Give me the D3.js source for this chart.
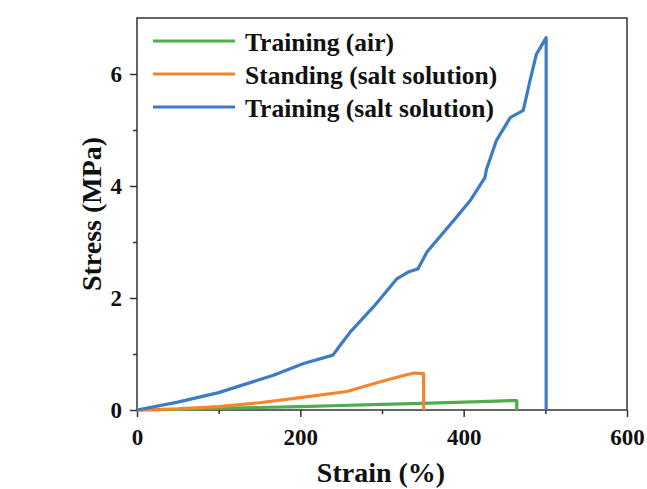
<!DOCTYPE html>
<html>
<head>
<meta charset="utf-8">
<script src="https://cdn.jsdelivr.net/npm/d3@7"></script>
<style>
  body { margin: 0; background: #fff; }
  text { font-family: "Liberation Serif", "Times New Roman", serif; font-weight: bold; fill: #111; }
</style>
</head>
<body>
<svg id="chart" width="647" height="489"></svg>
<script>
// series: [strain %, stress MPa]
const trainingAir = [[0, 0], [50, 0.01], [100, 0.03], [150, 0.045], [200, 0.06], [250, 0.08],
    [300, 0.1], [350, 0.12], [400, 0.14], [440, 0.16], [465, 0.17], [465, 0]];
const standingSalt = [[0, 0], [50, 0.02], [100, 0.06], [150, 0.13], [200, 0.22], [257, 0.33],
    [297, 0.5], [330, 0.63], [340, 0.66], [351, 0.65], [351, 0]];
const trainingSalt = [[0, 0], [50, 0.14], [100, 0.31], [167, 0.62], [204, 0.83], [240, 0.98],
    [249, 1.16], [261, 1.39], [290, 1.85], [318, 2.34], [333, 2.47], [344, 2.52], [355, 2.82],
    [391, 3.44], [408, 3.74], [426, 4.15], [428, 4.3], [440, 4.81], [457, 5.22], [473, 5.35],
    [481, 5.87], [489, 6.35], [501, 6.65], [501, 0]];

const seriesNames = ["Training (air)", "Standing (salt solution)", "Training (salt solution)"];
const seriesColors = ["#4fae4b", "#f5842a", "#3d7cc4"];
const xTicks = [0, 200, 400, 600];
const yTicks = [0, 2, 4, 6];

const svg = d3.select("#chart");
const mLeft = 137, mRight = 627, mTop = 18, mBottom = 410;

const x = d3.scaleLinear().domain([0, 600]).range([mLeft, mRight]);
const y = d3.scaleLinear().domain([0, 7]).range([mBottom, mTop]);

// frame
svg.append("rect")
    .attr("x", mLeft).attr("y", mTop)
    .attr("width", mRight - mLeft).attr("height", mBottom - mTop)
    .attr("fill", "none").attr("stroke", "#333").attr("stroke-width", 1.5);

// minor ticks
svg.append("g")
    .attr("transform", `translate(0,${mBottom})`)
    .call(d3.axisBottom(x).tickValues([100, 300, 500]).tickSize(4).tickFormat(""))
    .call(g => g.select(".domain").remove());
svg.append("g")
    .attr("transform", `translate(${mLeft},0)`)
    .call(d3.axisLeft(y).tickValues([1, 3, 5]).tickSize(4).tickFormat(""))
    .call(g => g.select(".domain").remove());

// major ticks
svg.append("g")
    .attr("transform", `translate(0,${mBottom})`)
    .call(d3.axisBottom(x).tickValues(xTicks).tickSize(7).tickPadding(12).tickFormat(d3.format("d")))
    .call(g => g.select(".domain").remove())
    .selectAll("text").style("font-size", "23px");
svg.append("g")
    .attr("transform", `translate(${mLeft},0)`)
    .call(d3.axisLeft(y).tickValues(yTicks).tickSize(7).tickPadding(8).tickFormat(d3.format("d")))
    .call(g => g.select(".domain").remove())
    .selectAll("text").style("font-size", "23px");

svg.selectAll(".tick line").attr("stroke", "#333").attr("stroke-width", 1.5);

// axis titles
svg.append("text")
    .attr("x", 381).attr("y", 482)
    .attr("text-anchor", "middle")
    .style("font-size", "28px")
    .text("Strain (%)");
svg.append("text")
    .attr("transform", "translate(101,214) rotate(-90)")
    .attr("text-anchor", "middle")
    .style("font-size", "28px")
    .text("Stress (MPa)");

// curves
const line = d3.line().x(d => x(d[0])).y(d => y(d[1]));
[trainingAir, standingSalt, trainingSalt].forEach((data, i) => {
    svg.append("path")
        .datum(data)
        .attr("d", line)
        .attr("fill", "none")
        .attr("stroke", seriesColors[i])
        .attr("stroke-width", 3.2)
        .attr("stroke-linejoin", "round");
});

// legend
const legend = svg.append("g").attr("transform", "translate(153,41)");
seriesNames.forEach((name, i) => {
    const row = legend.append("g").attr("transform", `translate(0,${i * 33})`);
    row.append("line")
        .attr("x1", 0).attr("x2", 82)
        .attr("stroke", seriesColors[i]).attr("stroke-width", 3.2);
    row.append("text")
        .attr("x", 92).attr("y", 10)
        .style("font-size", "25.5px")
        .text(name);
});
</script>
</body>
</html>
